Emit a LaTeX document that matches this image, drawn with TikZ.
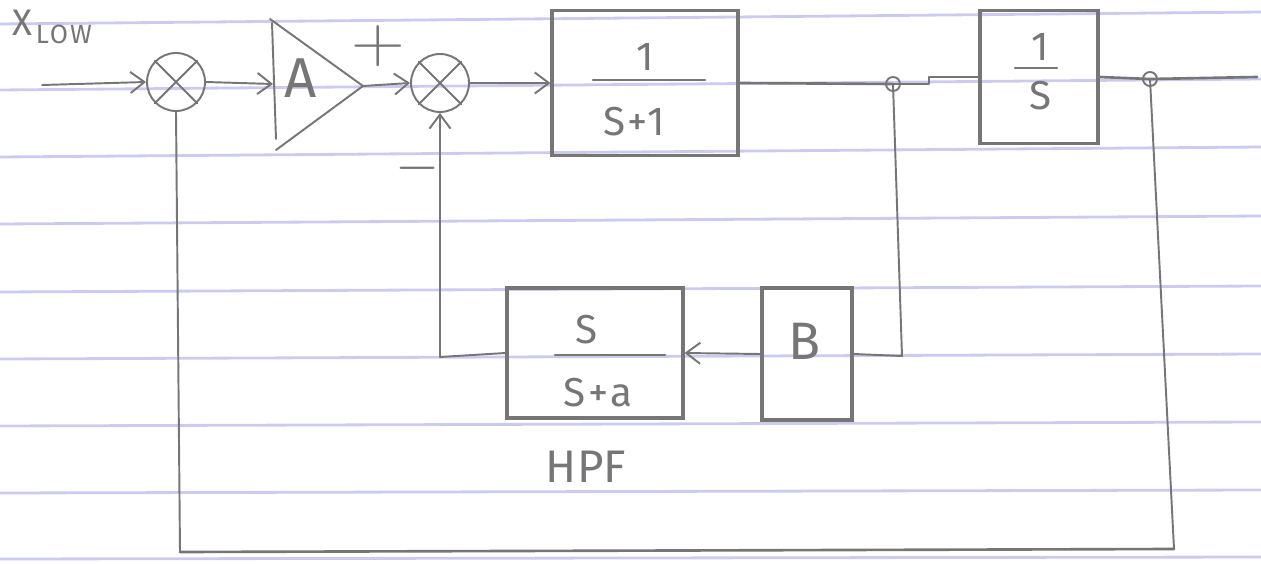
\documentclass[tikz,border=0pt]{standalone}
\usepackage{fontspec}
\setmainfont{Fira Sans}
\usetikzlibrary{arrows.meta,calc}
\definecolor{pencil}{RGB}{118,118,118}
\definecolor{paper}{RGB}{203,203,242}
\begin{document}
\begin{tikzpicture}[x=0.02cm,y=-0.02cm,
  wire/.style={draw=pencil,line width=1.1pt,line cap=round,line join=round},
  arr/.style={wire,-{Straight Barb[length=8pt,width=12pt]}},
  blk/.style={draw=pencil,line width=1.8pt,rectangle,inner sep=0pt},
  sumj/.style={draw=pencil,line width=1.1pt,circle,inner sep=0pt,minimum size=1.16cm},
  tap/.style={draw=pencil,line width=1.1pt,circle,inner sep=0pt,minimum size=0.28cm},
  txt/.style={text=pencil,inner sep=0pt},
  frac/.style={txt,font=\fontsize{23}{23}\selectfont\addfontfeature{LetterSpace=6}},
  bar/.style={draw=pencil,line width=1.4pt,line cap=round},
  ]
\useasboundingbox[fill=white] (0,0) rectangle (1261,564);
% ruled paper
\foreach \L/\R in {24/12,90/79,157/147,224/216,292/286,359/354,426/422,493/490,559/557}
  \draw[paper,line width=1.6pt] (0,\L) -- (1261,\R);

% input label
\node[txt,anchor=base west] (xlow) at (12,36) {\fontsize{21}{21}\selectfont X\kern2pt\raisebox{-4pt}{\fontsize{15}{15}\selectfont\addfontfeature{LetterSpace=8}LOW}};
\coordinate (in) at (42,85);

% junction 1
\node[sumj] (j1) at (176,82) {};
\draw[wire] (j1.north west) -- (j1.south east) (j1.north east) -- (j1.south west);

% amplifier
\coordinate (ampin) at (273,84);
\coordinate (ampout) at (363,86);
\draw[wire] (270,19) -- (ampout) -- (276,150);
\draw[wire] (272,23) -- (276,139);
\node[txt,font=\fontsize{32}{32}\selectfont] (amp) at (301,78) {A};

% junction 2
\node[sumj] (j2) at (440,83) {};
\draw[wire] (j2.north west) -- (j2.south east) (j2.north east) -- (j2.south west);
\node[txt,font=\fontsize{24}{24}\selectfont] (plus) at (378,46) {\scalebox{1.7}[1.5]{$+$}};
\node[txt,font=\fontsize{24}{24}\selectfont] (minus) at (418,168) {\scalebox{1.3}[1.3]{$-$}};

% block 1/(s+1)
\node[blk,minimum width=3.72cm,minimum height=2.9cm] (b1) at (645,83) {};
\node[frac] (b1n) at (645,57) {1};
\draw[bar] (593,80) -- (705,80);
\node[frac] (b1d) at (634,122) {S+1};

% taps
\node[tap] (d1) at (893,84) {};
\node[tap] (d2) at (1150,79) {};

% block 1/s
\node[blk,minimum width=2.36cm,minimum height=2.66cm] (b2) at (1039,77) {};
\node[frac] (b2n) at (1040,47) {1};
\draw[bar] (1015,68) -- (1057,68);
\node[frac] (b2d) at (1040,96) {S};
\coordinate (out) at (1257,77);

% HPF block
\node[blk,minimum width=3.52cm,minimum height=2.6cm] (hpf) at (595,353) {};
\node[frac] (hpfn) at (587,330) {S};
\draw[bar] (555,355) -- (665,355);
\node[frac] (hpfd) at (598,393) {S+a};
\node[txt,font=\fontsize{26}{26}\selectfont] (hpflab) at (586,467) {HPF};

% B block
\node[blk,minimum width=1.8cm,minimum height=2.64cm] (bb) at (807,354) {};
\node[txt,font=\fontsize{30}{30}\selectfont] (bl) at (805,341) {B};

% corner points
\coordinate (c1) at (902,356);
\coordinate (c2) at (440,357);
\coordinate (c3) at (1174,549);
\coordinate (c4) at (180,552);

% forward path
\draw[arr] (in) -- (j1.west);
\draw[arr] (j1.east) -- (ampin);
\draw[arr] (ampout) -- (j2.west);
\draw[arr] (j2.east) -- (b1.west);
\draw[wire,line width=1.5pt] (b1.east) -- (d1.center);
\draw[wire,line width=1.5pt] (d1.center) -- ++(36,0) |- (b2.west);
\draw[wire,line width=1.5pt] (b2.east) -- (d2.center) -- (out);

% inner feedback
\draw[wire] (d1.center) -- (c1) -- (bb.east);
\draw[arr] (bb.west) -- (hpf.east);
\draw[arr] (hpf.west) -- (c2) -- (j2.south);

% outer feedback
\draw[wire] (d2.center) -- (c3);
\draw[wire,line width=1.5pt] (c3) -- (c4);
\draw[wire] (c4) -- (j1.south);
\end{tikzpicture}
\end{document}
